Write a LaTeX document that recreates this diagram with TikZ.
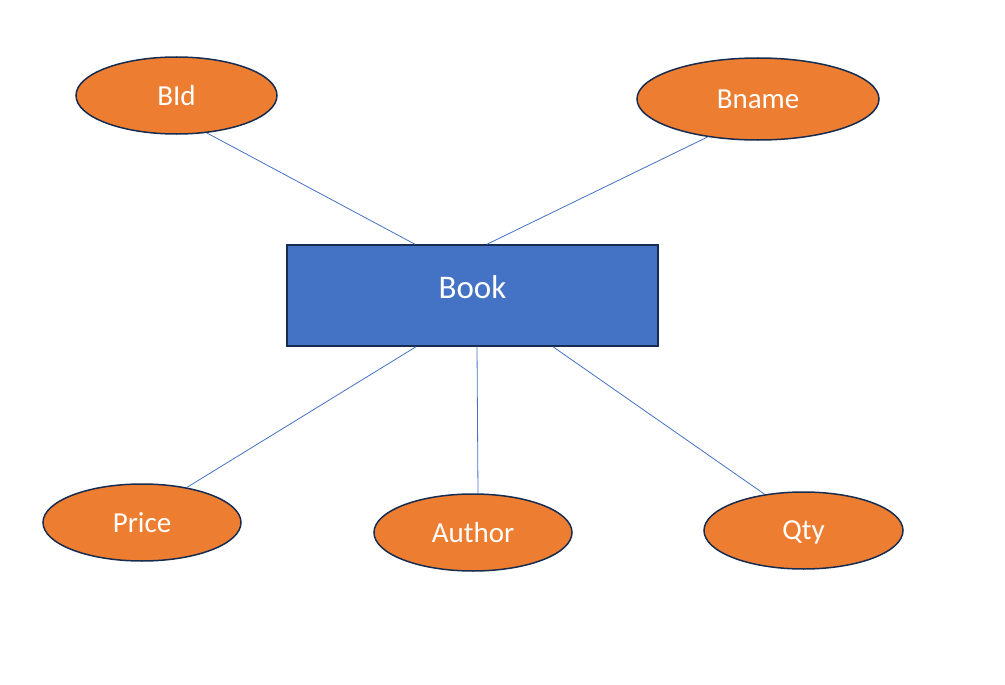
\documentclass[tikz,border=0pt]{standalone}
\usepackage{fontspec}
\setmainfont{Carlito}
\usetikzlibrary{shapes.geometric}
\definecolor{attrfill}{HTML}{ED7D31}
\definecolor{entfill}{HTML}{4472C4}
\definecolor{edge}{HTML}{172C51}
\definecolor{link}{HTML}{4472C4}
\begin{document}
\begin{tikzpicture}[x=1pt,y=-1pt,
  attr/.style={ellipse,draw=edge,line width=1.5pt,fill=attrfill,inner sep=0pt,
    text=white,text depth=0pt,font=\fontsize{29}{34}\selectfont},
  entity/.style={rectangle,draw=edge,line width=1.5pt,fill=entfill,inner sep=0pt},
  entlabel/.style={text=white,font=\fontsize{33}{38}\selectfont},
  conn/.style={draw=link,line width=0.8pt}]
\useasboundingbox (0,0) rectangle (1005,685);
% entity box with its label set a little above centre
\node[entity,minimum width=371pt,minimum height=101pt] (book) at (472.5,295.5) {};
\node[entlabel] (booklabel) at (472.5,287) {Book};
% attributes
\node[attr,minimum width=201pt,minimum height=77pt] (bid) at (176.5,95.5) {BId};
\node[attr,minimum width=242pt,minimum height=82pt] (bname) at (758,99) {Bname};
\node[attr,minimum width=198pt,minimum height=77pt] (price) at (142,522.5) {Price};
\node[attr,minimum width=198pt,minimum height=77pt] (author) at (473,532.5) {Author};
\node[attr,minimum width=199pt,minimum height=77pt] (qty) at (803.5,530.5) {Qty};
% connectors
\draw[conn] (bid.-51) -- ([xshift=-57.5pt]book.north);
\draw[conn] (bname.217) -- ([xshift=14.5pt]book.north);
\draw[conn] ([xshift=-56.5pt]book.south) -- (price.38);
\draw[conn] ([xshift=4.5pt]book.south) -- ([xshift=5pt]author.north);
\draw[conn] ([xshift=80.5pt]book.south) -- (qty.137);
\end{tikzpicture}
\end{document}
